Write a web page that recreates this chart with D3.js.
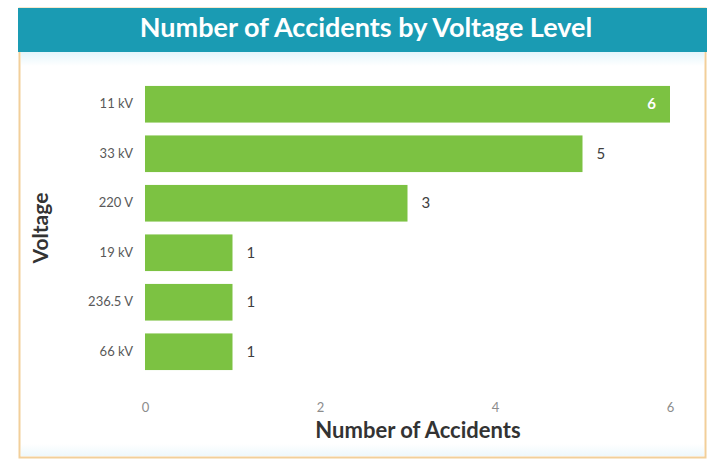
<!DOCTYPE html>
<html><head><meta charset="utf-8">
<script src="https://cdn.jsdelivr.net/npm/d3@7"></script>
<style>html,body{margin:0;padding:0;background:#fff;}svg{display:block;}</style>
</head><body>
<svg id="c" width="710" height="461"></svg>
<script>
const categories = ["11 kV", "33 kV", "220 V", "19 kV", "236.5 V", "66 kV"];
const values = [6, 5, 3, 1, 1, 1];
const xTicks = [0, 2, 4, 6];
const title = "Number of Accidents by Voltage Level";
const xTitle = "Number of Accidents";
const yTitle = "Voltage";

const svg = d3.select("#c");
const font = "Lato, 'Open Sans', sans-serif";

// frame
const defs = svg.append("defs");
const grad = defs.append("linearGradient").attr("id", "g").attr("x1", 0).attr("y1", 0).attr("x2", 0).attr("y2", 1);
grad.append("stop").attr("offset", 0).attr("stop-color", "#e3f5fb");
grad.append("stop").attr("offset", 1).attr("stop-color", "#ffffff");
const grad2 = defs.append("linearGradient").attr("id", "g2").attr("x1", 0).attr("y1", 0).attr("x2", 0).attr("y2", 1);
grad2.append("stop").attr("offset", 0).attr("stop-color", "#ffffff");
grad2.append("stop").attr("offset", 1).attr("stop-color", "#eef8fc");
svg.append("rect").attr("x", 19.5).attr("y", 8.5).attr("width", 686).attr("height", 449)
  .attr("fill", "#fff").attr("stroke", "#f2cf9a").attr("stroke-width", 2);
svg.append("rect").attr("x", 21).attr("y", 52).attr("width", 683).attr("height", 14).attr("fill", "url(#g)");
svg.append("rect").attr("x", 21).attr("y", 444).attr("width", 683).attr("height", 12).attr("fill", "url(#g2)");
svg.append("rect").attr("x", 18).attr("y", 8).attr("width", 689).attr("height", 44).attr("fill", "#1a9bb3");
svg.append("text").attr("x", 366).attr("y", 37).attr("text-anchor", "middle")
  .attr("font-family", font).attr("font-weight", 700).attr("font-size", 27).attr("fill", "#fff").text(title);

const x = d3.scaleLinear().domain([0, 6]).range([145, 670]);
const y = d3.scaleBand().domain(categories).range([80, 376]).paddingInner(0.26).paddingOuter(0.12);

svg.append("g").selectAll("rect").data(values).join("rect")
  .attr("x", x(0)).attr("y", (d, i) => y(categories[i]))
  .attr("width", d => x(d) - x(0)).attr("height", y.bandwidth())
  .attr("fill", "#7cc242");

svg.append("g").selectAll("text").data(values).join("text")
  .attr("x", (d, i) => i === 0 ? x(d) - 14 : x(d) + 14)
  .attr("y", (d, i) => y(categories[i]) + y.bandwidth() / 2 + 5)
  .attr("text-anchor", (d, i) => i === 0 ? "end" : "start")
  .attr("font-family", font).attr("font-size", 15).attr("font-weight", (d, i) => i === 0 ? 700 : 400)
  .attr("fill", (d, i) => i === 0 ? "#fff" : "#404040").text(d => d);

const ya = svg.append("g").attr("transform", `translate(${x(0)},0)`)
  .call(d3.axisLeft(y).tickSize(0).tickPadding(12));
ya.select(".domain").remove();
ya.selectAll("text").attr("font-family", font).attr("font-size", 13).attr("fill", "#595959");

const xa = svg.append("g").attr("transform", "translate(0,395)")
  .call(d3.axisBottom(x).tickValues(xTicks).tickFormat(d3.format("d")).tickSize(0).tickPadding(8));
xa.select(".domain").remove();
xa.selectAll("text").attr("font-family", font).attr("font-size", 13).attr("fill", "#8c8c8c");

svg.append("text").attr("x", 418).attr("y", 438).attr("text-anchor", "middle")
  .attr("font-family", font).attr("font-weight", 700).attr("font-size", 22).attr("fill", "#333").text(xTitle);
svg.append("text").attr("transform", "translate(48,228) rotate(-90)").attr("text-anchor", "middle")
  .attr("font-family", font).attr("font-weight", 700).attr("font-size", 21).attr("fill", "#333").text(yTitle);
</script>
</body></html>
